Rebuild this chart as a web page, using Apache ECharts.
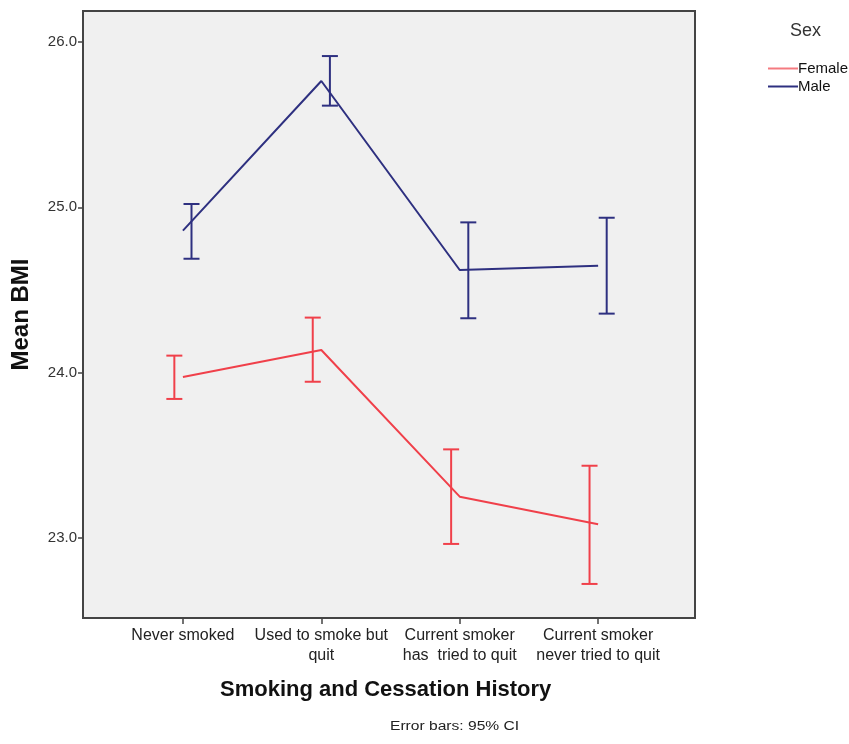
<!DOCTYPE html>
<html><head><meta charset="utf-8">
<script src="https://cdn.jsdelivr.net/npm/echarts@6/dist/echarts.min.js"></script>
<style>html,body{margin:0;padding:0;background:#fff;overflow:hidden}#c{width:849px;height:744px}</style>
</head><body><div id="c"></div>
<script>
const categories = ["Never smoked", "Used to smoke but\nquit", "Current smoker\nhas  tried to quit", "Current smoker\nnever tried to quit"];
const femaleMean = [23.974, 24.137, 23.250, 23.083];
const femaleLow  = [23.841, 23.945, 22.964, 22.722];
const femaleHigh = [24.103, 24.333, 23.536, 23.437];
const maleMean = [24.859, 25.764, 24.621, 24.647];
const maleLow  = [24.689, 25.615, 24.329, 24.357];
const maleHigh = [25.020, 25.915, 24.909, 24.937];
const yTicks = [23, 24, 25, 26];

const femaleColor = '#f0404a';
const maleColor = '#2e3080';
const xPos = categories.map((c, i) => i + 1);
const barOffset = 0.062;

function errSeries(name, low, high, color, off) {
  return {
    type: 'custom', name: name, z: 4, silent: true,
    data: low.map((l, i) => [xPos[i] + off, l, high[i]]),
    renderItem: function (params, api) {
      const x = api.value(0);
      const p1 = api.coord([x, api.value(1)]);
      const p2 = api.coord([x, api.value(2)]);
      const hw = 8;
      const st = { stroke: color, lineWidth: 2 };
      return { type: 'group', children: [
        { type: 'line', shape: { x1: p1[0], y1: p1[1], x2: p2[0], y2: p2[1] }, style: st },
        { type: 'line', shape: { x1: p1[0] - hw, y1: p1[1], x2: p1[0] + hw, y2: p1[1] }, style: st },
        { type: 'line', shape: { x1: p2[0] - hw, y1: p2[1], x2: p2[0] + hw, y2: p2[1] }, style: st }
      ]};
    }
  };
}

const chart = echarts.init(document.getElementById('c'));
chart.setOption({
  animation: false,
  backgroundColor: '#ffffff',
  grid: { left: 83, top: 11, right: 154, bottom: 126, show: true, backgroundColor: '#f0f0f0', borderColor: '#444444', borderWidth: 2 },
  legend: {
    data: [{ name: 'Female', itemStyle: { color: '#f47a80' } }, { name: 'Male' }],
    orient: 'vertical', left: 763, top: 56, itemGap: 3, itemWidth: 30, itemHeight: 16,
    icon: 'path://M0,7 L30,7 L30,9 L0,9 Z',
    textStyle: { fontFamily: 'Liberation Sans', fontSize: 15, color: '#111', padding: [0, 0, 0, -5] }
  },
  graphic: [
    { type: 'text', left: 790, top: 22, style: { text: 'Sex', font: '18px "Liberation Sans"', fill: '#333' } },
    { type: 'text', left: 220, top: 679, style: { text: 'Smoking and Cessation History', font: 'bold 22px "Liberation Sans"', fill: '#111' } },
    { type: 'text', x: 390, y: 721, scaleX: 1.3, style: { text: 'Error bars: 95% CI', font: '12px "Liberation Sans"', fill: '#222', verticalAlign: 'top' } }
  ],
  xAxis: {
    type: 'value', min: 0.278, max: 4.70,
    axisLine: { show: false },
    splitLine: { show: false },
    axisTick: { show: true, customValues: xPos, length: 6, lineStyle: { color: '#444', width: 1.5 } },
    axisLabel: { customValues: xPos, formatter: v => categories[Math.round(v) - 1], fontFamily: 'Liberation Sans', fontSize: 16, color: '#222', lineHeight: 20, margin: 8 }
  },
  yAxis: {
    type: 'value', min: 22.516, max: 26.1875,
    name: 'Mean BMI', nameLocation: 'middle', nameGap: 50,
    nameTextStyle: { fontFamily: 'Liberation Sans', fontSize: 24, fontWeight: 'bold', color: '#111' },
    axisLine: { show: false },
    splitLine: { show: false },
    axisTick: { show: true, customValues: yTicks, length: 5, lineStyle: { color: '#444', width: 1.5 } },
    axisLabel: { customValues: yTicks, formatter: v => v.toFixed(1), fontFamily: 'Liberation Sans', fontSize: 15, color: '#333', margin: 6 }
  },
  series: [
    { type: 'line', name: 'Female', data: femaleMean.map((v, i) => [xPos[i], v]), showSymbol: false, symbol: 'none', lineStyle: { color: femaleColor, width: 2 }, itemStyle: { color: femaleColor }, z: 3 },
    { type: 'line', name: 'Male', data: maleMean.map((v, i) => [xPos[i], v]), showSymbol: false, symbol: 'none', lineStyle: { color: maleColor, width: 2 }, itemStyle: { color: maleColor }, z: 3 },
    errSeries('FemaleErr', femaleLow, femaleHigh, femaleColor, -barOffset),
    errSeries('MaleErr', maleLow, maleHigh, maleColor, barOffset)
  ]
});
</script></body></html>
